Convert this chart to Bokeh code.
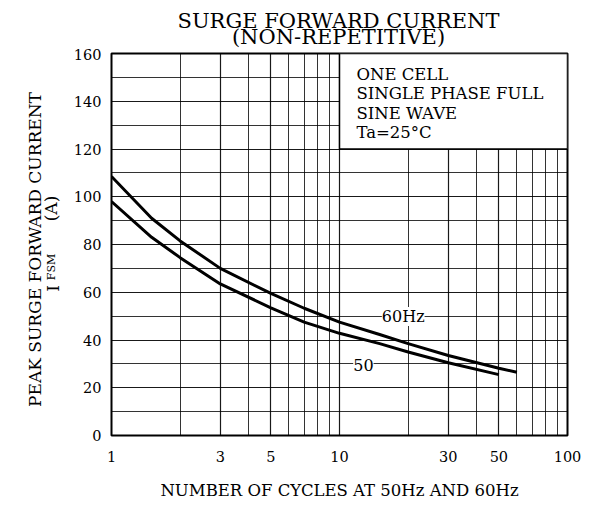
import math
from bokeh.plotting import figure
from bokeh.models import FixedTicker
from bokeh.layouts import column, row
from bokeh.core.properties import value
from bokeh.embed import file_html
from bokeh.resources import INLINE

# ---- data ----
cycles_60 = [1, 1.5, 2, 3, 5, 7, 10, 15, 20, 30, 50, 60]
ifsm_60 = [108.5, 91, 81.5, 70, 59.5, 53.3, 47.5, 42.3, 38.5, 33.5, 28.2, 26.5]
cycles_50 = [1, 1.5, 2, 3, 5, 7, 10, 15, 20, 30, 50]
ifsm_50 = [98, 83, 74.5, 63.5, 53.5, 47.5, 42.8, 38.5, 35, 30.5, 25.5]

x_major = [1, 3, 5, 10, 30, 50, 100]
x_minor = [2, 4, 6, 7, 8, 9, 20, 40, 60, 70, 80, 90]
y_major = [0, 20, 40, 60, 80, 100, 120, 140, 160]
y_minor = [10, 30, 50, 70, 90, 110, 130, 150]

box_x = [10, 100]
box_y = [120, 160]
note_lines = ["ONE CELL", "SINGLE PHASE FULL", "SINE WAVE", "Ta=25°C"]
title_lines = ["SURGE FORWARD CURRENT", "(NON-REPETITIVE)"]
x_title = "NUMBER OF CYCLES AT 50Hz AND 60Hz"

FONT = "DejaVu Serif"
W, H = 594, 505
TOP_H = 48
LEFT_W = 70
FR_TOP, FR_BOT = 53, 435


def bare(fig):
    fig.min_border = 0
    fig.outline_line_color = None
    fig.xaxis.visible = False
    fig.yaxis.visible = False
    fig.xgrid.visible = False
    fig.ygrid.visible = False
    fig.border_fill_color = "white"
    fig.background_fill_color = "white"


# ---------------- title strip ----------------
tf = figure(width=W, height=TOP_H, x_range=(0, W), y_range=(0, TOP_H),
            output_backend="svg", toolbar_location=None)
bare(tf)
tf.text(x=[338, 338], y=[TOP_H - 20, TOP_H - 36], text=title_lines,
        text_font=value(FONT), text_font_size="21px",
        text_align="center", text_baseline="middle", text_color="black")

# ---------------- y-label strip (frame aligned with the chart frame) ----------------
PH = H - TOP_H
lf = figure(width=LEFT_W, height=PH, x_range=(0, LEFT_W), y_range=(0, FR_BOT - FR_TOP),
            output_backend="svg", toolbar_location=None)
bare(lf)
lf.min_border_top = FR_TOP - TOP_H
lf.min_border_bottom = H - FR_BOT


def ly(page_y):
    return FR_BOT - page_y


lf.text(x=[34], y=[ly(249)], text=["PEAK SURGE FORWARD CURRENT"], angle=math.pi / 2,
        text_font=value(FONT), text_font_size="17px",
        text_align="center", text_baseline="middle", text_color="black")
lf.text(x=[52, 50], y=[ly(288), ly(208)], text=["I", "(A)"], angle=math.pi / 2,
        text_font=value(FONT), text_font_size="17px",
        text_align="center", text_baseline="middle", text_color="black")
lf.text(x=[51], y=[ly(266.5)], text=["FSM"], angle=math.pi / 2,
        text_font=value(FONT), text_font_size="11px",
        text_align="center", text_baseline="middle", text_color="black")

# ---------------- main chart ----------------
p = figure(width=W - LEFT_W, height=PH, x_axis_type="log",
           x_range=(1, 100), y_range=(0, 160),
           output_backend="svg", toolbar_location=None)
p.min_border = 0
p.min_border_left = 109 - LEFT_W
p.min_border_right = W - 567
p.min_border_top = FR_TOP - TOP_H
p.min_border_bottom = H - FR_BOT
p.outline_line_color = "black"
p.outline_line_width = 2
p.background_fill_color = "white"
p.border_fill_color = "white"

p.xaxis.ticker = FixedTicker(ticks=x_major, minor_ticks=x_minor)
p.yaxis.ticker = FixedTicker(ticks=y_major, minor_ticks=y_minor)
p.xaxis.major_label_overrides = {v: str(v) for v in x_major}
for ax in (p.xaxis, p.yaxis):
    ax.axis_line_color = None
    ax.major_tick_line_color = None
    ax.minor_tick_line_color = None
    ax.major_label_text_font = FONT
    ax.major_label_text_font_size = "14.5px"
    ax.major_label_text_color = "black"
p.xaxis.major_label_standoff = 9
p.yaxis.major_label_standoff = 4
p.xaxis.axis_label = x_title
p.xaxis.axis_label_text_font = FONT
p.xaxis.axis_label_text_font_size = "16.5px"
p.xaxis.axis_label_text_font_style = "normal"
p.xaxis.axis_label_text_color = "black"
p.xaxis.axis_label_standoff = 16

for g in (p.xgrid, p.ygrid):
    g.grid_line_color = "black"
    g.grid_line_width = 1.2
    g.grid_line_alpha = 0.9
    g.minor_grid_line_color = "black"
    g.minor_grid_line_width = 1
    g.minor_grid_line_alpha = 0.8

# condition box (hides the grid)
p.quad(left=[box_x[0]], right=[box_x[1]], bottom=[box_y[0]], top=[box_y[1]],
       fill_color="white", line_color="black", line_width=1.5)

p.line(cycles_60, ifsm_60, line_color="black", line_width=3)
p.line(cycles_50, ifsm_50, line_color="black", line_width=3)


def dx(px):
    return 10 ** ((px - 109) / 229.0)


def dy(py):
    return (435 - py) / 2.3875


def lab(texts, pxs, pys, size, align="center", bg=None):
    kw = {}
    if bg:
        kw = dict(background_fill_color=bg)
    p.text(x=[dx(v) for v in pxs], y=[dy(v) for v in pys], text=texts,
           text_font=value(FONT), text_font_size=size, text_align=align,
           text_baseline="middle", text_color="black", **kw)


# curve labels
lab(["60Hz"], [402], [316], "16px", bg="white")
lab(["50"], [362], [364], "16px", bg="white")

# note text
lab(note_lines, [355] * 4, [73.5 + i * 19.5 for i in range(4)], "16.5px", align="left")

layout = column(tf, row(lf, p))
open("out.html", "w").write(file_html(layout, INLINE))
